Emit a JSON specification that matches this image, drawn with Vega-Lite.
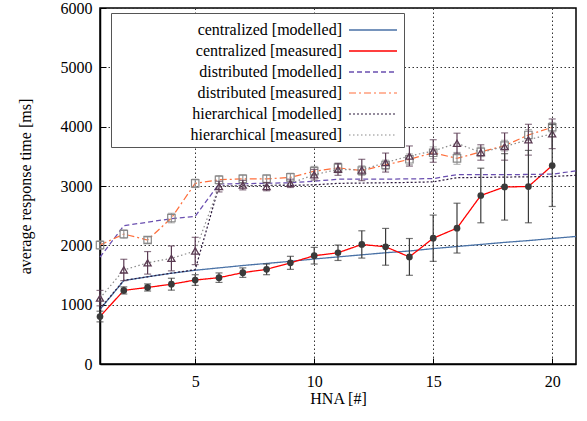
{
  "$schema": "https://vega.github.io/schema/vega-lite/v6.json",
  "width": 476,
  "height": 356,
  "autosize": {"type": "none"},
  "padding": {"left": 100, "top": 8, "right": 11, "bottom": 57},
  "background": "white",
  "config": {
    "font": "Liberation Serif, Times New Roman, serif",
    "view": {"stroke": "#000", "strokeWidth": 1.5},
    "axis": {
      "labelFont": "Liberation Serif, Times New Roman, serif", "titleFont": "Liberation Serif, Times New Roman, serif",
      "labelFontSize": 16, "titleFontSize": 16, "titleFontWeight": "normal",
      "labelColor": "#000", "titleColor": "#000",
      "domainColor": "#000", "domainWidth": 1.5,
      "tickColor": "#000", "tickSize": -6, "tickWidth": 1,
      "gridColor": "#333", "gridDash": [1.5, 2.5], "gridWidth": 1, "gridOpacity": 1
    },
    "legend": {
      "labelFont": "Liberation Serif, Times New Roman, serif", "labelFontSize": 16, "labelColor": "#000",
      "strokeColor": "#555", "fillColor": "white", "padding": 4,
      "symbolType": "M-2,0H2", "symbolSize": 576, "rowPadding": -7.2,
      "labelAlign": "right", "symbolOffset": 245, "labelOffset": -44, "labelLimit": 300
    }
  },
  "datasets": {
    "d": [
      {"s": "centralized [modelled]", "n": 1, "v": 920},
      {"s": "centralized [modelled]", "n": 2, "v": 1405},
      {"s": "centralized [modelled]", "n": 3, "v": 1470},
      {"s": "centralized [modelled]", "n": 4, "v": 1530},
      {"s": "centralized [modelled]", "n": 5, "v": 1580},
      {"s": "centralized [modelled]", "n": 6, "v": 1620},
      {"s": "centralized [modelled]", "n": 7, "v": 1660},
      {"s": "centralized [modelled]", "n": 8, "v": 1695},
      {"s": "centralized [modelled]", "n": 9, "v": 1730},
      {"s": "centralized [modelled]", "n": 10, "v": 1770},
      {"s": "centralized [modelled]", "n": 11, "v": 1805},
      {"s": "centralized [modelled]", "n": 12, "v": 1840},
      {"s": "centralized [modelled]", "n": 13, "v": 1875},
      {"s": "centralized [modelled]", "n": 14, "v": 1905},
      {"s": "centralized [modelled]", "n": 15, "v": 1945},
      {"s": "centralized [modelled]", "n": 16, "v": 1980},
      {"s": "centralized [modelled]", "n": 17, "v": 2015},
      {"s": "centralized [modelled]", "n": 18, "v": 2050},
      {"s": "centralized [modelled]", "n": 19, "v": 2080},
      {"s": "centralized [modelled]", "n": 20, "v": 2115},
      {"s": "centralized [modelled]", "n": 21, "v": 2150},
      {"s": "centralized [measured]", "n": 1, "v": 800, "err": 90},
      {"s": "centralized [measured]", "n": 2, "v": 1240, "err": 60},
      {"s": "centralized [measured]", "n": 3, "v": 1290, "err": 60},
      {"s": "centralized [measured]", "n": 4, "v": 1345, "err": 100},
      {"s": "centralized [measured]", "n": 5, "v": 1415, "err": 90},
      {"s": "centralized [measured]", "n": 6, "v": 1455, "err": 80},
      {"s": "centralized [measured]", "n": 7, "v": 1540, "err": 80},
      {"s": "centralized [measured]", "n": 8, "v": 1595, "err": 90},
      {"s": "centralized [measured]", "n": 9, "v": 1705, "err": 110},
      {"s": "centralized [measured]", "n": 10, "v": 1825, "err": 140},
      {"s": "centralized [measured]", "n": 11, "v": 1875, "err": 130},
      {"s": "centralized [measured]", "n": 12, "v": 2015, "err": 230},
      {"s": "centralized [measured]", "n": 13, "v": 1975, "err": 310},
      {"s": "centralized [measured]", "n": 14, "v": 1805, "err": 310},
      {"s": "centralized [measured]", "n": 15, "v": 2120, "err": 390},
      {"s": "centralized [measured]", "n": 16, "v": 2290, "err": 420},
      {"s": "centralized [measured]", "n": 17, "v": 2840, "err": 460},
      {"s": "centralized [measured]", "n": 18, "v": 2985, "err": 560},
      {"s": "centralized [measured]", "n": 19, "v": 2990, "err": 610},
      {"s": "centralized [measured]", "n": 20, "v": 3345, "err": 690},
      {"s": "distributed [modelled]", "n": 1, "v": 1800},
      {"s": "distributed [modelled]", "n": 2, "v": 2330},
      {"s": "distributed [modelled]", "n": 3, "v": 2390},
      {"s": "distributed [modelled]", "n": 4, "v": 2450},
      {"s": "distributed [modelled]", "n": 5, "v": 2490},
      {"s": "distributed [modelled]", "n": 6, "v": 3035},
      {"s": "distributed [modelled]", "n": 7, "v": 3040},
      {"s": "distributed [modelled]", "n": 8, "v": 3045},
      {"s": "distributed [modelled]", "n": 9, "v": 3055},
      {"s": "distributed [modelled]", "n": 10, "v": 3080},
      {"s": "distributed [modelled]", "n": 11, "v": 3115},
      {"s": "distributed [modelled]", "n": 12, "v": 3115},
      {"s": "distributed [modelled]", "n": 13, "v": 3115},
      {"s": "distributed [modelled]", "n": 14, "v": 3120},
      {"s": "distributed [modelled]", "n": 15, "v": 3125},
      {"s": "distributed [modelled]", "n": 16, "v": 3190},
      {"s": "distributed [modelled]", "n": 17, "v": 3190},
      {"s": "distributed [modelled]", "n": 18, "v": 3190},
      {"s": "distributed [modelled]", "n": 19, "v": 3195},
      {"s": "distributed [modelled]", "n": 20, "v": 3200},
      {"s": "distributed [modelled]", "n": 21, "v": 3255},
      {"s": "distributed [measured]", "n": 1, "v": 2005, "err": 70},
      {"s": "distributed [measured]", "n": 2, "v": 2190, "err": 70},
      {"s": "distributed [measured]", "n": 3, "v": 2090, "err": 50},
      {"s": "distributed [measured]", "n": 4, "v": 2460, "err": 80},
      {"s": "distributed [measured]", "n": 5, "v": 3045, "err": 70},
      {"s": "distributed [measured]", "n": 6, "v": 3105, "err": 70},
      {"s": "distributed [measured]", "n": 7, "v": 3120, "err": 70},
      {"s": "distributed [measured]", "n": 8, "v": 3120, "err": 70},
      {"s": "distributed [measured]", "n": 9, "v": 3145, "err": 70},
      {"s": "distributed [measured]", "n": 10, "v": 3250, "err": 80},
      {"s": "distributed [measured]", "n": 11, "v": 3305, "err": 80},
      {"s": "distributed [measured]", "n": 12, "v": 3260, "err": 80},
      {"s": "distributed [measured]", "n": 13, "v": 3355, "err": 80},
      {"s": "distributed [measured]", "n": 14, "v": 3450, "err": 90},
      {"s": "distributed [measured]", "n": 15, "v": 3560, "err": 100},
      {"s": "distributed [measured]", "n": 16, "v": 3465, "err": 100},
      {"s": "distributed [measured]", "n": 17, "v": 3575, "err": 80},
      {"s": "distributed [measured]", "n": 18, "v": 3680, "err": 90},
      {"s": "distributed [measured]", "n": 19, "v": 3860, "err": 90},
      {"s": "distributed [measured]", "n": 20, "v": 3990, "err": 80},
      {"s": "hierarchical [modelled]", "n": 1, "v": 930},
      {"s": "hierarchical [modelled]", "n": 2, "v": 1410},
      {"s": "hierarchical [modelled]", "n": 3, "v": 1470},
      {"s": "hierarchical [modelled]", "n": 4, "v": 1530},
      {"s": "hierarchical [modelled]", "n": 5, "v": 1590},
      {"s": "hierarchical [modelled]", "n": 6, "v": 3000},
      {"s": "hierarchical [modelled]", "n": 7, "v": 3005},
      {"s": "hierarchical [modelled]", "n": 8, "v": 3010},
      {"s": "hierarchical [modelled]", "n": 9, "v": 3010},
      {"s": "hierarchical [modelled]", "n": 10, "v": 3020},
      {"s": "hierarchical [modelled]", "n": 11, "v": 3045},
      {"s": "hierarchical [modelled]", "n": 12, "v": 3050},
      {"s": "hierarchical [modelled]", "n": 13, "v": 3055},
      {"s": "hierarchical [modelled]", "n": 14, "v": 3060},
      {"s": "hierarchical [modelled]", "n": 15, "v": 3070},
      {"s": "hierarchical [modelled]", "n": 16, "v": 3140},
      {"s": "hierarchical [modelled]", "n": 17, "v": 3145},
      {"s": "hierarchical [modelled]", "n": 18, "v": 3150},
      {"s": "hierarchical [modelled]", "n": 19, "v": 3155},
      {"s": "hierarchical [modelled]", "n": 20, "v": 3160},
      {"s": "hierarchical [modelled]", "n": 21, "v": 3180},
      {"s": "hierarchical [measured]", "n": 1, "v": 1110, "err": 130},
      {"s": "hierarchical [measured]", "n": 2, "v": 1585, "err": 180},
      {"s": "hierarchical [measured]", "n": 3, "v": 1705, "err": 190},
      {"s": "hierarchical [measured]", "n": 4, "v": 1780, "err": 210},
      {"s": "hierarchical [measured]", "n": 5, "v": 1905, "err": 230},
      {"s": "hierarchical [measured]", "n": 6, "v": 2990, "err": 90},
      {"s": "hierarchical [measured]", "n": 7, "v": 3015, "err": 80},
      {"s": "hierarchical [measured]", "n": 8, "v": 2990, "err": 70},
      {"s": "hierarchical [measured]", "n": 9, "v": 3045, "err": 70},
      {"s": "hierarchical [measured]", "n": 10, "v": 3190, "err": 90},
      {"s": "hierarchical [measured]", "n": 11, "v": 3280, "err": 100},
      {"s": "hierarchical [measured]", "n": 12, "v": 3270, "err": 180},
      {"s": "hierarchical [measured]", "n": 13, "v": 3395, "err": 160},
      {"s": "hierarchical [measured]", "n": 14, "v": 3505, "err": 170},
      {"s": "hierarchical [measured]", "n": 15, "v": 3590, "err": 190},
      {"s": "hierarchical [measured]", "n": 16, "v": 3720, "err": 170},
      {"s": "hierarchical [measured]", "n": 17, "v": 3565, "err": 130},
      {"s": "hierarchical [measured]", "n": 18, "v": 3665, "err": 230},
      {"s": "hierarchical [measured]", "n": 19, "v": 3780, "err": 260},
      {"s": "hierarchical [measured]", "n": 20, "v": 3880, "err": 250}
    ]
  },
  "encoding": {
    "x": {
      "field": "n", "type": "quantitative",
      "scale": {"domain": [1, 21], "nice": false, "zero": false},
      "axis": {"values": [5, 10, 15, 20], "title": "HNA [#]", "labelPadding": 15, "titlePadding": 1}
    },
    "y": {
      "field": "v", "type": "quantitative",
      "scale": {"domain": [0, 6000], "nice": false},
      "axis": {"values": [0, 1000, 2000, 3000, 4000, 5000, 6000], "format": "d", "title": "average response time [ms]", "labelPadding": 14, "titlePadding": 27}
    }
  },
  "layer": [
    {
      "data": {"name": "d"},
      "mark": {"type": "line"},
      "encoding": {
        "color": {
          "field": "s", "type": "nominal",
          "scale": {
            "domain": ["centralized [modelled]", "centralized [measured]", "distributed [modelled]", "distributed [measured]", "hierarchical [modelled]", "hierarchical [measured]"],
            "range": ["#4a72a6", "#ff0000", "#6a4fb0", "#ff6f3c", "#2d1a3d", "#8a8a8a"]
          },
          "legend": {"title": null, "orient": "none", "legendX": 11, "legendY": 5}
        },
        "strokeDash": {
          "field": "s", "type": "nominal",
          "scale": {
            "domain": ["centralized [modelled]", "centralized [measured]", "distributed [modelled]", "distributed [measured]", "hierarchical [modelled]", "hierarchical [measured]"],
            "range": [[1, 0], [1, 0], [5, 3], [7, 3, 2, 3], [2, 2], [1.5, 2.5]]
          },
          "legend": {"title": null, "orient": "none", "legendX": 11, "legendY": 5}
        },
        "strokeWidth": {
          "field": "s", "type": "nominal",
          "scale": {
            "domain": ["centralized [modelled]", "centralized [measured]", "distributed [modelled]", "distributed [measured]", "hierarchical [modelled]", "hierarchical [measured]"],
            "range": [1.3, 1.2, 1.4, 1.2, 1.6, 1]
          },
          "legend": {"title": null, "orient": "none", "legendX": 11, "legendY": 5}
        }
      }
    },
    {
      "data": {"name": "d"},
      "transform": [{"filter": "datum.s === 'distributed [measured]'"}],
      "mark": {"type": "errorbar", "color": "#999999", "thickness": 1.2, "ticks": {"size": 7, "thickness": 1.2}},
      "encoding": {"yError": {"field": "err"}}
    },
    {
      "data": {"name": "d"},
      "transform": [{"filter": "datum.s === 'distributed [measured]'"}],
      "mark": {"type": "point", "shape": "square", "filled": false, "color": "#888888", "size": 55, "strokeWidth": 1.2, "opacity": 1}
    },
    {
      "data": {"name": "d"},
      "transform": [{"filter": "datum.s === 'hierarchical [measured]'"}],
      "mark": {"type": "errorbar", "color": "#5a3a52", "thickness": 1.2, "ticks": {"size": 7, "thickness": 1.2}},
      "encoding": {"yError": {"field": "err"}}
    },
    {
      "data": {"name": "d"},
      "transform": [{"filter": "datum.s === 'hierarchical [measured]'"}],
      "mark": {"type": "point", "shape": "triangle-up", "filled": false, "color": "#5a3a52", "size": 50, "strokeWidth": 1.3, "opacity": 1}
    },
    {
      "data": {"name": "d"},
      "transform": [{"filter": "datum.s === 'centralized [measured]'"}],
      "mark": {"type": "errorbar", "color": "#3a3a3a", "thickness": 1.2, "ticks": {"size": 7, "thickness": 1.2}},
      "encoding": {"yError": {"field": "err"}}
    },
    {
      "data": {"name": "d"},
      "transform": [{"filter": "datum.s === 'centralized [measured]'"}],
      "mark": {"type": "point", "shape": "circle", "filled": true, "color": "#3a3a3a", "size": 45, "opacity": 1}
    }
  ]
}
